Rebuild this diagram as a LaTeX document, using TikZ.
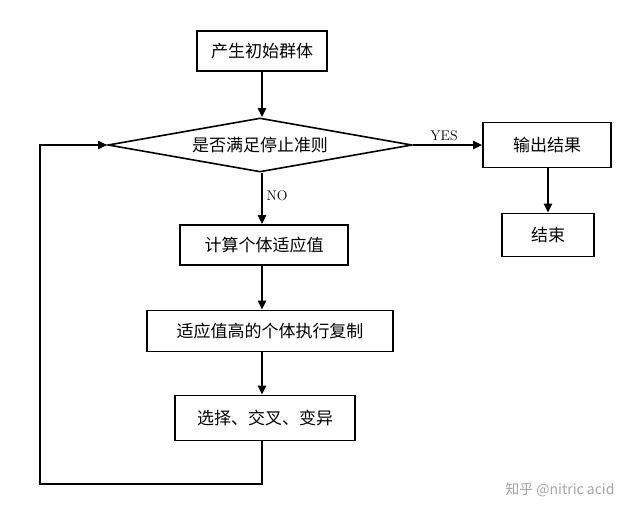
\documentclass[tikz,border=0pt]{standalone}
\usepackage{fontspec}
\newfontfamily\cjk{Noto Sans CJK SC}
\usetikzlibrary{shapes.geometric,arrows.meta}
\begin{document}
\begin{tikzpicture}[x=1pt,y=-1pt,
  box/.style={draw,line width=1.6pt,minimum height=40pt,inner xsep=5pt,font=\cjk\fontsize{17}{20}\selectfont},
  arr/.style={line width=2.6pt,-{Triangle[length=9pt,width=8pt]}},
  lbl/.style={font=\fontsize{14}{16}\selectfont}]
\useasboundingbox[fill=white] (0,0) rectangle (633,516);
\node[box,minimum width=130pt] (a) at (262,51) {产生初始群体};
\node[draw,line width=1.6pt,diamond,aspect=5.6,minimum width=304pt,minimum height=54pt,inner sep=0pt,font=\cjk\fontsize{17}{20}\selectfont] (d) at (260,145) {是否满足停止准则};
\node[box,minimum width=128pt,minimum height=45pt] (o) at (547,145) {输出结果};
\node[box,minimum width=92pt,minimum height=43pt] (e) at (548,235) {结束};
\node[box,minimum width=168pt] (c) at (264,245) {计算个体适应值};
\node[box,minimum width=246pt,minimum height=41pt] (r) at (270,331) {适应值高的个体执行复制};
\node[box,minimum width=180pt,minimum height=45pt] (s) at (265,418) {选择、交叉、变异};
\coordinate (l1) at (262,484);
\coordinate (l2) at (40,484);
\coordinate (l3) at (40,145);
\draw[arr] (a.south) -- (d.north -| a.south);
\draw[arr] (d.east) -- node[lbl,above,pos=0.45]{YES} (o.west);
\draw[arr] (o.south -| e.north) -- (e.north);
\draw[arr] (d.south -| 262,0) -- node[lbl,right,pos=0.45]{NO} (c.north -| 262,0);
\draw[arr] (c.south -| 262,0) -- (r.north -| 262,0);
\draw[arr] (r.south -| 262,0) -- (s.north -| 262,0);
\draw[arr] (s.south -| l1) -- (l1) -- (l2) -- (l3) -- (d.west);
\node[font=\cjk\fontsize{14}{16}\selectfont,text=gray!70,anchor=east] (w) at (618,490) {知乎 @nitric acid};
\end{tikzpicture}
\end{document}
